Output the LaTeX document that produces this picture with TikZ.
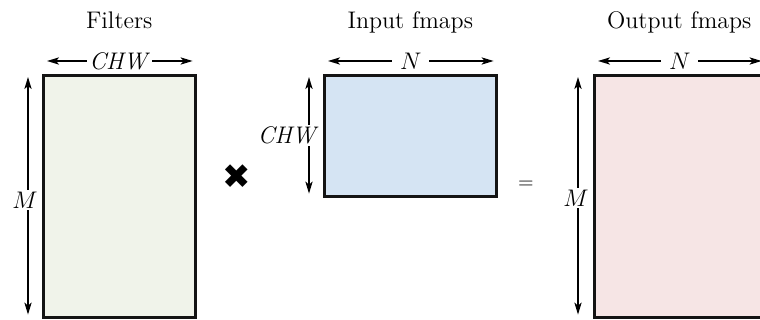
\documentclass[tikz,border=0pt]{standalone}
\usepackage{fontspec}
\newfontfamily\symfont{DejaVu Sans}
\usetikzlibrary{arrows.meta, positioning, calc}
\definecolor{filtgreen}{RGB}{240, 243, 234}
\definecolor{inblue}{RGB}{213, 228, 243}
\definecolor{outpink}{RGB}{246, 229, 229}
\definecolor{edgegray}{RGB}{20, 20, 20}

\begin{document}
\begin{tikzpicture}[x=0.5pt, y=-0.5pt,
    mat/.style={draw=edgegray, line width=1.3pt, anchor=north west, inner sep=0pt},
    title/.style={font=\large, anchor=base},
    dimarrow/.style={{Stealth[length=6pt, width=3.6pt, inset=1.5pt]}-{Stealth[length=6pt, width=3.6pt, inset=1.5pt]}, line width=0.8pt},
    dimlbl/.style={fill=white, font=\large, inner sep=1pt}]
  \useasboundingbox[fill=white] (0,0) rectangle (760,320);

  % the three matrices
  \node[mat, fill=filtgreen, minimum width=76pt, minimum height=121pt] (filt) at (42,74) {};
  \node[mat, fill=inblue, minimum width=86pt, minimum height=60.5pt] (in) at (323,74) {};
  \node[mat, fill=outpink, minimum width=85pt, minimum height=121pt] (out) at (593,74) {};

  \node[title] (filtlbl) at ($(filt.north)+(0,-45)$) {Filters};
  \node[title] (inlbl) at ($(in.north)+(0,-45)$) {Input fmaps};
  \node[title] (outlbl) at ($(out.north)+(0,-45)$) {Output fmaps};

  % widths
  \draw[dimarrow] ($(filt.north west)+(5,-13)$) -- node[dimlbl] (chwa) {\textit{CHW}} ($(filt.north east)+(-4,-13)$);
  \draw[dimarrow] ($(in.north west)+(5,-13)$) -- node[dimlbl, inner xsep=4pt] (na) {$N$} ($(in.north east)+(-4,-13)$);
  \draw[dimarrow] ($(out.north west)+(5,-13)$) -- node[dimlbl, inner xsep=4pt] (nb) {$N$} ($(out.north east)+(-4,-13)$);

  % heights
  \draw[dimarrow] ($(filt.north west)+(-14,3)$) -- ($(filt.south west)+(-14,-4)$);
  \node[dimlbl, left=1pt of filt.west, yshift=-2pt] (ma) {$M$};
  \draw[dimarrow] ($(in.north west)+(-14,3)$) -- ($(in.south west)+(-14,-4)$);
  \node[dimlbl, left=1pt of in.west] (chwb) {\textit{CHW}};
  \draw[dimarrow] ($(out.north west)+(-15,3)$) -- ($(out.south west)+(-15,-4)$);
  \node[dimlbl, left=1pt of out.west, yshift=-1pt] (mb) {$M$};

  % operators
  \node[font=\symfont\fontsize{17}{17}\selectfont] (times) at (237,177) {✖};
  \node (eq) at (526,185) {=};
\end{tikzpicture}
\end{document}
